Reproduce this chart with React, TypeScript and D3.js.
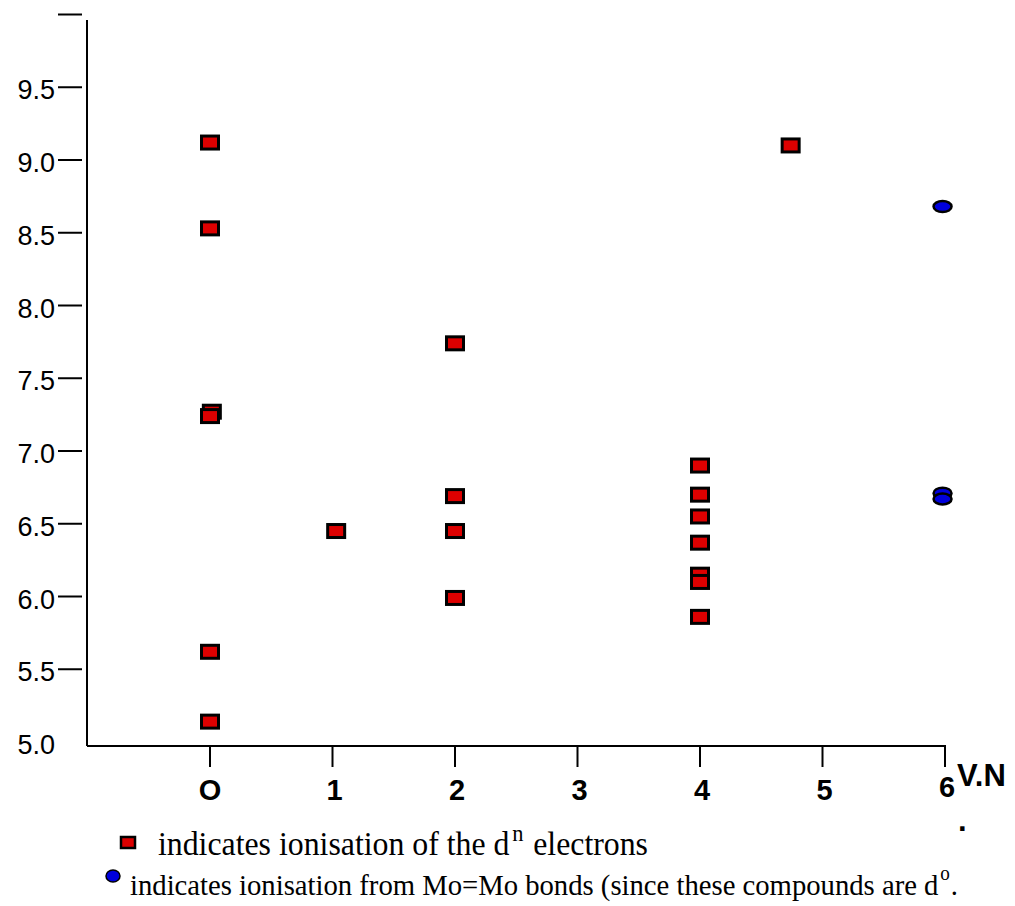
import React from "react";
import * as d3 from "d3";

// y axis: tick at 10.0 has no label, 5.0 has a label but no tick
const yTickVals = [10.0, 9.5, 9.0, 8.5, 8.0, 7.5, 7.0, 6.5, 6.0, 5.5];
const yLabelVals = [9.5, 9.0, 8.5, 8.0, 7.5, 7.0, 6.5, 6.0, 5.5, 5.0];
const xTickVals = [0, 1, 2, 3, 4, 5, 6];
const xTickLabels = ["O", "1", "2", "3", "4", "5", "6"];

// ionisation of the d^n electrons (red squares)
const dnX = [0, 0, 0.015, 0, 0, 0, 1.03, 2, 2, 2, 2, 4, 4, 4, 4, 4, 4, 4, 4.74];
const dnY = [9.12, 8.53, 7.27, 7.24, 5.62, 5.14, 6.45, 7.74, 6.69, 6.45, 5.99, 6.9, 6.7, 6.55, 6.37, 6.15, 6.1, 5.86, 9.1];

// ionisation from Mo=Mo bonds (blue ellipses)
const mmX = [5.98, 5.98, 5.98];
const mmY = [8.68, 6.71, 6.67];

const RED = "#dd0000";
const BLUE = "#0000dd";

export default function App() {
  const width = 1015;
  const height = 906;

  const x = d3.scaleLinear().domain([0, 6]).range([210, 945]);
  const y = d3.scaleLinear().domain([5, 10]).range([742, 14.5]);

  const axisX = 87;
  const axisY = 746;

  const sans = "'Liberation Sans', Arial, sans-serif";
  const serif = "'Liberation Serif', 'Times New Roman', serif";

  return (
    <svg
      width={width}
      height={height}
      style={{ position: "absolute", left: 0, top: 0, background: "#fff" }}
    >
      {/* y axis */}
      <line x1={axisX} x2={axisX} y1={20} y2={axisY} stroke="#000" strokeWidth={2} />
      {yTickVals.map((v) => (
        <line key={"yt" + v} x1={58} x2={82} y1={y(v)} y2={y(v)} stroke="#000" strokeWidth={2} />
      ))}
      {yLabelVals.map((v) => (
        <text
          key={"yl" + v}
          x={55}
          y={y(v) + 12}
          textAnchor="end"
          fontFamily={sans}
          fontSize={27}
        >
          {v.toFixed(1)}
        </text>
      ))}

      {/* x axis */}
      <line x1={axisX} x2={x(6) + 1} y1={axisY} y2={axisY} stroke="#000" strokeWidth={2} />
      {xTickVals.map((v) => (
        <line key={"xt" + v} x1={x(v)} x2={x(v)} y1={axisY} y2={767} stroke="#000" strokeWidth={2} />
      ))}
      {xTickLabels.map((label, i) => (
        <text
          key={"xl" + i}
          x={x(xTickVals[i]) + (i === 0 ? 0 : 2)}
          y={i === 6 ? 797 : 800}
          textAnchor="middle"
          fontFamily={sans}
          fontWeight="bold"
          fontSize={29}
        >
          {label}
        </text>
      ))}
      <text x={957} y={786} fontFamily={sans} fontWeight="bold" fontSize={31}>
        V.N
      </text>
      <text x={958} y={831} fontFamily={sans} fontWeight="bold" fontSize={31}>
        .
      </text>

      {/* d^n points */}
      {dnX.map((xv, i) => (
        <rect
          key={"dn" + i}
          x={x(xv) - 8.5}
          y={y(dnY[i]) - 6.5}
          width={17}
          height={13}
          fill={RED}
          stroke="#000"
          strokeWidth={3}
        />
      ))}

      {/* Mo=Mo points */}
      {mmX.map((xv, i) => (
        <ellipse
          key={"mm" + i}
          cx={x(xv)}
          cy={y(mmY[i])}
          rx={9}
          ry={5.5}
          fill={BLUE}
          stroke="#000"
          strokeWidth={2.5}
        />
      ))}

      {/* legend */}
      <rect x={121} y={837} width={14} height={11} fill={RED} stroke="#000" strokeWidth={2.5} />
      <text x={158} y={855} fontFamily={serif} fontSize={34} textLength={490} lengthAdjust="spacingAndGlyphs">
        indicates ionisation of the d
        <tspan dx={3} dy={-14} fontSize={24}>n</tspan>
        <tspan dx={2} dy={14}> electrons</tspan>
      </text>

      <ellipse cx={113} cy={876} rx={7} ry={6} fill={BLUE} stroke="#000" strokeWidth={1.5} />
      <text x={130} y={895} fontFamily={serif} fontSize={30} textLength={828} lengthAdjust="spacingAndGlyphs">
        indicates ionisation from Mo=Mo bonds (since these compounds are d
        <tspan dx={2} dy={-15} fontSize={20}>o</tspan>
        <tspan dx={1} dy={15}>.</tspan>
      </text>
    </svg>
  );
}
